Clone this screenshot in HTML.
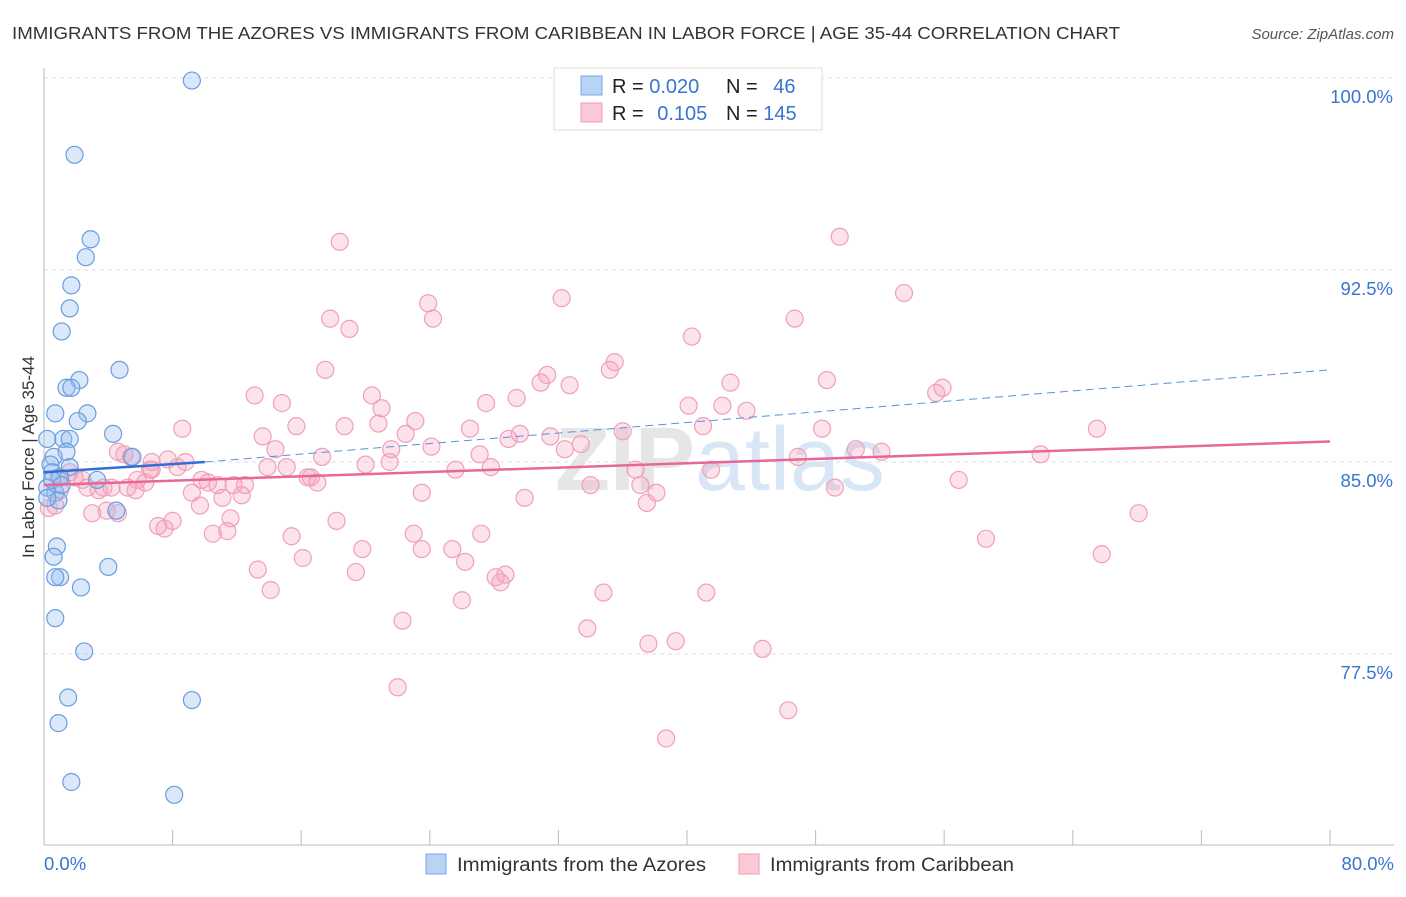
<!DOCTYPE html>
<html><head><meta charset="utf-8"><style>
body{margin:0;background:#fff;font-family:"Liberation Sans",sans-serif;}
</style></head><body>
<svg width="1406" height="892" xmlns="http://www.w3.org/2000/svg" font-family="Liberation Sans, sans-serif">
<text x="12" y="39" font-size="17.5" fill="#333" textLength="1108" lengthAdjust="spacingAndGlyphs">IMMIGRANTS FROM THE AZORES VS IMMIGRANTS FROM CARIBBEAN IN LABOR FORCE | AGE 35-44 CORRELATION CHART</text>
<text x="1394" y="39" font-size="15" fill="#555" font-style="italic" text-anchor="end">Source: ZipAtlas.com</text>
<text x="720" y="490" font-size="90" font-weight="bold" fill="#e6e6e6" text-anchor="middle">ZIP<tspan fill="#d9e6f5" font-weight="normal">atlas</tspan></text>
<g id="grid"></g>
<g id="axes"></g>
<g id="pts"></g>
<g id="trend"></g>
<g>
<rect x="554" y="68" width="268" height="62" fill="#fff" stroke="#ddd"/>
<rect x="581" y="76" width="21" height="19" fill="#b8d4f5" stroke="#7aa8e6"/>
<rect x="581" y="103" width="21" height="19" fill="#fbc8d6" stroke="#f09ab3"/>
<text x="612" y="93" font-size="20" fill="#222">R = <tspan fill="#3a74d0">0.020</tspan></text>
<text x="726" y="93" font-size="20" fill="#222">N = <tspan fill="#3a74d0" dx="10">46</tspan></text>
<text x="612" y="120" font-size="20" fill="#222">R = <tspan fill="#3a74d0" dx="8">0.105</tspan></text>
<text x="726" y="120" font-size="20" fill="#222">N = <tspan fill="#3a74d0">145</tspan></text>
</g>
<text x="34" y="457" font-size="17" fill="#333" text-anchor="middle" transform="rotate(-90 34 457)">In Labor Force | Age 35-44</text>
<g>
<rect x="426" y="854" width="20" height="20" fill="#b8d4f5" stroke="#7aa8e6"/>
<text x="457" y="871" font-size="19" fill="#333" textLength="249" lengthAdjust="spacingAndGlyphs">Immigrants from the Azores</text>
<rect x="739" y="854" width="20" height="20" fill="#fbc8d6" stroke="#f09ab3"/>
<text x="770" y="871" font-size="19" fill="#333" textLength="244" lengthAdjust="spacingAndGlyphs">Immigrants from Caribbean</text>
</g>
</svg>
<script>
const yTicks=[100,92.5,85,77.5];
const yTickLabels=["100.0%","92.5%","85.0%","77.5%"];
const xTickCount=10;
const xLabels=["0.0%","80.0%"];
const azoresX=[9.2,1.9,2.9,2.6,1.7,1.6,1.1,4.7,2.2,1.4,1.7,0.7,2.7,2.1,4.3,0.2,1.2,1.6,1.4,0.6,5.5,0.4,1.6,0.5,3.3,1.0,0.2,0.7,0.9,4.5,0.8,0.6,4.0,1.0,0.7,2.3,0.7,2.5,1.5,9.2,0.9,1.7,8.1,0.2,0.5,1.1];
const azoresY=[99.9,97.0,93.7,93.0,91.9,91.0,90.1,88.6,88.2,87.9,87.9,86.9,86.9,86.6,86.1,85.9,85.9,85.9,85.4,85.2,85.2,84.9,84.8,84.6,84.3,84.4,84.0,83.8,83.5,83.1,81.7,81.3,80.9,80.5,80.5,80.1,78.9,77.6,75.8,75.7,74.8,72.5,72.0,83.6,84.3,84.1];
const caribX=[18.4,49.5,32.2,53.5,23.9,24.2,17.8,19.0,46.7,40.3,35.5,35.2,17.5,31.3,30.9,32.7,42.7,48.7,55.9,55.5,13.1,20.4,29.4,27.5,21.0,14.8,40.1,43.7,42.2,23.1,15.7,18.7,20.8,8.6,26.5,36.0,48.4,65.5,13.6,28.9,29.6,31.5,22.5,33.4,24.1,32.4,41.0,4.6,14.4,5.4,27.1,17.3,21.6,6.7,7.7,8.8,50.5,52.1,62.0,46.9,6.6,8.3,13.9,15.1,20.0,21.5,25.6,27.8,36.8,41.5,16.4,17.0,16.6,5.8,9.8,10.8,11.8,12.5,1.6,1.9,2.7,3.4,3.7,5.2,5.7,6.3,9.2,10.2,11.1,12.3,23.5,29.9,34.0,37.1,38.1,37.5,49.2,56.9,3.9,3.0,4.6,7.1,7.5,8.0,11.6,10.5,11.4,18.2,23.0,27.2,15.4,58.6,65.8,68.1,19.8,23.5,25.4,16.1,26.2,13.3,19.4,28.1,28.7,28.4,14.1,34.8,41.2,26.0,22.3,33.8,37.6,39.3,44.7,22.0,46.3,38.7,0.7,0.3,1.0,5.0,2.4,4.2,0.9,6.7,9.7];
const caribY=[93.6,93.8,91.4,91.6,91.2,90.6,90.6,90.2,90.6,89.9,88.9,88.6,88.6,88.4,88.1,88.0,88.1,88.2,87.9,87.7,87.6,87.6,87.5,87.3,87.1,87.3,87.2,87.0,87.2,86.6,86.4,86.4,86.5,86.3,86.3,86.2,86.3,86.3,86.0,85.9,86.1,86.0,86.1,85.7,85.6,85.5,86.4,85.4,85.5,85.2,85.3,85.2,85.5,85.0,85.1,85.0,85.5,85.4,85.3,85.2,84.7,84.8,84.8,84.8,84.9,85.0,84.7,84.8,84.7,84.7,84.4,84.2,84.4,84.3,84.3,84.1,84.1,84.1,84.6,84.4,84.0,83.9,84.0,84.0,83.9,84.2,83.8,84.2,83.6,83.7,83.8,83.6,84.1,84.1,83.8,83.4,84.0,84.3,83.1,83.0,83.0,82.5,82.4,82.7,82.8,82.2,82.3,82.7,82.2,82.2,82.1,82.0,81.4,83.0,81.6,81.6,81.6,81.25,81.1,80.8,80.7,80.5,80.6,80.3,80.0,79.9,79.9,79.6,78.8,78.5,77.9,78.0,77.7,76.2,75.3,74.2,83.3,83.2,83.9,85.3,84.3,84.0,84.4,84.7,83.3];
const azoresTrend=[[0,84.6],[10,85.0],[80,88.6]];
const caribTrend=[[0,84.1],[80,85.8]];

const NS="http://www.w3.org/2000/svg";
const X0=44,X1=1330,Y100=78,PX=25.6;
const xs=v=>X0+v*(X1-X0)/80;
const ys=v=>Y100+(100-v)*PX;
function mk(t,a,p){const e=document.createElementNS(NS,t);for(const k in a)e.setAttribute(k,a[k]);p.appendChild(e);return e;}
const grid=document.getElementById('grid'),axes=document.getElementById('axes'),pts=document.getElementById('pts'),tr=document.getElementById('trend');
yTicks.forEach((t,i)=>{
 const l=mk('line',{x1:X0,x2:1394,y1:ys(t),y2:ys(t),stroke:'#ddd','stroke-dasharray':'4,4'},grid);
 
 
 const tx=mk('text',{x:1393,y:ys(t)+25,'font-size':18.5,fill:'#3a74d0','text-anchor':'end'},grid);
 tx.textContent=yTickLabels[i];
 
 
});
const ya=mk('line',{x1:X0,x2:X0,y1:68,y2:845,stroke:'#bbb'},axes);


const xa=mk('line',{x1:X0,x2:1394,y1:845,y2:845,stroke:'#bbb'},axes);


for(let i=0;i<=xTickCount;i++){
 const tk=mk('line',{x1:xs(i*8),x2:xs(i*8),y1:830,y2:845,stroke:'#bbb'},axes);
 
 
}
const xl0=mk('text',{x:44,y:870,'font-size':18.5,fill:'#3a74d0'},axes);xl0.textContent=xLabels[0];


const xl1=mk('text',{x:1394,y:870,'font-size':18.5,fill:'#3a74d0','text-anchor':'end'},axes);xl1.textContent=xLabels[1];


caribX.forEach((v,i)=>{
 const c=mk('circle',{cx:xs(v),cy:ys(caribY[i]),r:8.5,fill:'rgba(246,160,185,0.3)',stroke:'#f0a0b8','stroke-width':1.2},pts);
 
 
});
azoresX.forEach((v,i)=>{
 const c=mk('circle',{cx:xs(v),cy:ys(azoresY[i]),r:8.5,fill:'rgba(150,190,240,0.35)',stroke:'#6a9de0','stroke-width':1.2},pts);
 
 
});
const a=azoresTrend;
const t1=mk('line',{x1:xs(a[0][0]),y1:ys(a[0][1]),x2:xs(a[1][0]),y2:ys(a[1][1]),stroke:'#2f6fd6','stroke-width':2.5},tr);


const t2=mk('line',{x1:xs(a[1][0]),y1:ys(a[1][1]),x2:xs(a[2][0]),y2:ys(a[2][1]),stroke:'#5a8fe0','stroke-width':1,'stroke-dasharray':'8,5'},tr);


const c=caribTrend;
const t3=mk('line',{x1:xs(c[0][0]),y1:ys(c[0][1]),x2:xs(c[1][0]),y2:ys(c[1][1]),stroke:'#e8679a','stroke-width':2.5},tr);


</script>
</body></html>
